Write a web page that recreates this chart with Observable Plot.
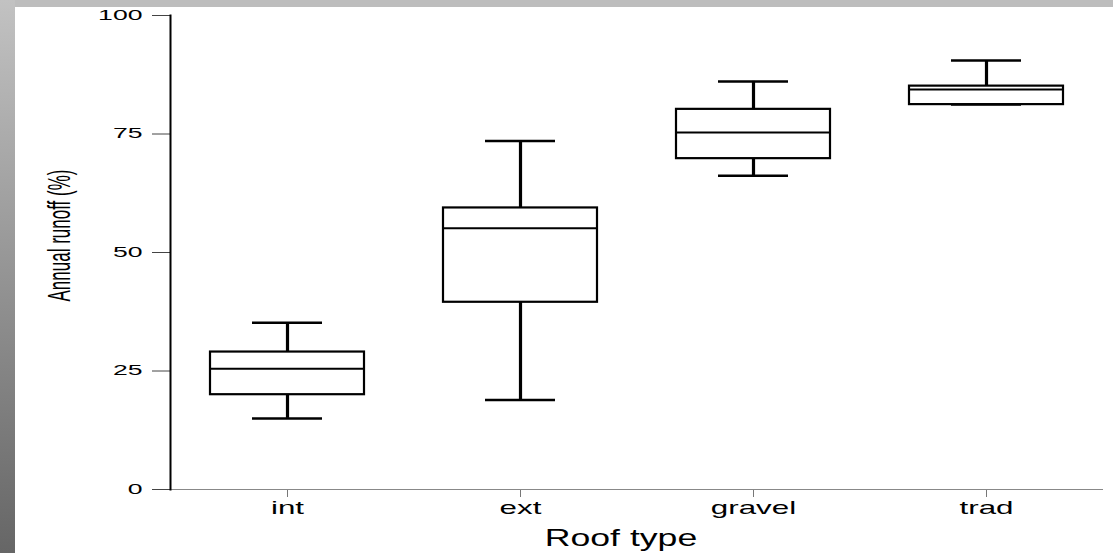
<!DOCTYPE html>
<html><head><meta charset="utf-8">
<script src="https://cdn.jsdelivr.net/npm/d3@7"></script>
<script src="https://cdn.jsdelivr.net/npm/@observablehq/plot@0.6"></script>
<style>
html,body{margin:0;padding:0;width:1113px;height:553px;overflow:hidden;background:#bdbdbd;}
#left{position:absolute;left:0;top:0;width:15px;height:553px;background:linear-gradient(to bottom,#c2c2c2,#666666);}
#chart{position:absolute;left:15px;top:7px;width:1098px;height:546px;background:#fff;}
#chart svg{display:block;}
</style></head><body><div id="left"></div><div id="chart"></div>
<script>
// Data
const roofTypes   = ["int", "ext", "gravel", "trad"];
const whiskerLow  = [15.0, 18.9, 66.2, 81.2];
const quartile1   = [20.0, 39.5, 69.8, 81.2];
const medians     = [25.5, 55.1, 75.3, 84.4];
const quartile3   = [29.0, 59.4, 80.2, 85.1];
const whiskerHigh = [35.2, 73.5, 86.1, 90.5];
const yTicks = [0, 25, 50, 75, 100];
const xTitle = "Roof type";
const yTitle = "Annual runoff (%)";

const data = roofTypes.map((type, i) => ({
  type, lo: whiskerLow[i], q1: quartile1[i], med: medians[i], q3: quartile3[i], hi: whiskerHigh[i]
}));

const plot = Plot.plot({
  width: 1098, height: 546,
  marginLeft: 155, marginRight: 10, marginTop: 8, marginBottom: 64,
  style: {background: "transparent", fontFamily: "'Liberation Sans', Arial, sans-serif", color: "#000", overflow: "visible"},
  x: {domain: roofTypes, paddingInner: 0.34, paddingOuter: 0.17, label: null},
  y: {domain: [0, 100], label: null},
  marks: [
    Plot.axisY({ticks: yTicks, tickSize: 18, tickPadding: 10, fontSize: 14, stroke: "#444", label: null}),
    Plot.axisX({tickSize: 8, tickPadding: 3, fontSize: 19, stroke: "#777", label: null}),
    Plot.ruleY([0], {stroke: "#888", strokeWidth: 1}),
    Plot.frame({anchor: "left", stroke: "#000", strokeWidth: 2}),
    Plot.ruleX(data, {x: "type", y1: "lo", y2: "q1", strokeWidth: 3.2}),
    Plot.ruleX(data, {x: "type", y1: "q3", y2: "hi", strokeWidth: 3.2}),
    Plot.tickY(data, {x: "type", y: "lo", strokeWidth: 2.5, insetLeft: 42, insetRight: 42}),
    Plot.tickY(data, {x: "type", y: "hi", strokeWidth: 2.5, insetLeft: 42, insetRight: 42}),
    Plot.barY(data, {x: "type", y1: "q1", y2: "q3", fill: "white", stroke: "black", strokeWidth: 2.2}),
    Plot.tickY(data, {x: "type", y: "med", strokeWidth: 2}),
    Plot.text([xTitle], {frameAnchor: "bottom", dx: -16, dy: 56, fontSize: 23, fill: "#000"}),
    Plot.text([yTitle], {frameAnchor: "left", textAnchor: "middle", dx: -110, dy: -17, rotate: -90, fontSize: 17, fill: "#000"})
  ]
});

function stretch(el, sx, sy) {
  const tr = el.getAttribute("transform") || "";
  let extra = "";
  const x = el.getAttribute("x"), y = el.getAttribute("y");
  const num = v => v == null || /^-?[\d.]+$/.test(v);
  if ((x != null || y != null) && num(x) && num(y)) {
    extra = `translate(${x || 0},${y || 0})`;
    el.removeAttribute("x"); el.removeAttribute("y");
  }
  el.setAttribute("transform", `${tr} ${extra} scale(${sx},${sy})`);
}
plot.querySelectorAll('g[aria-label="y-axis tick label"] text').forEach(t => stretch(t, 1.9, 1));
plot.querySelectorAll('g[aria-label="x-axis tick label"] text').forEach(t => stretch(t, 1.65, 1));
plot.querySelectorAll('g[aria-label="text"] text').forEach(t => {
  if (t.textContent === xTitle) stretch(t, 1.55, 1);
  else if (t.textContent === yTitle) stretch(t, 1, 1.8);
});
document.getElementById("chart").appendChild(plot);
</script>
</body></html>
